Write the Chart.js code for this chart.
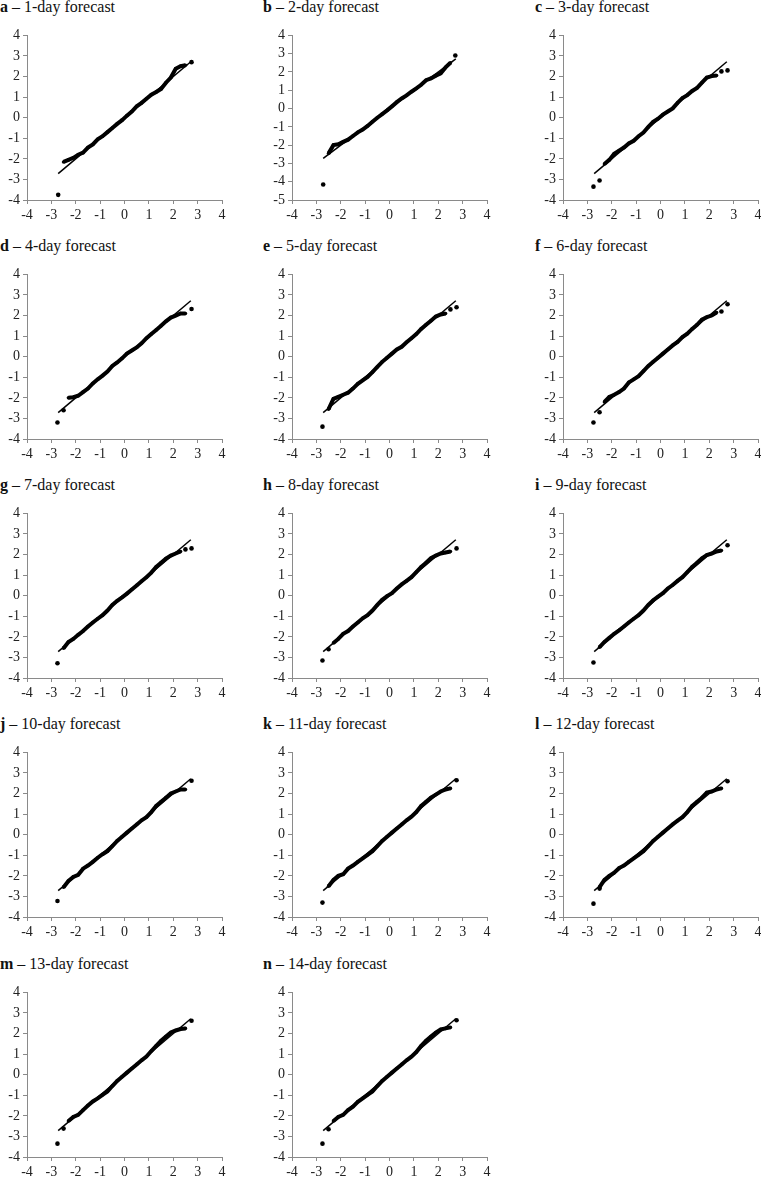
<!DOCTYPE html>
<html lang="en">
<head>
  <meta charset="UTF-8" />
  <title>Q-Q plots of forecast errors</title>
  <script src="https://cdn.jsdelivr.net/npm/chart.js"></script>
  <style>
    body {
      margin: 0;
      background: #fff;
      width: 761px;
      height: 1178px;
      overflow: hidden;
      position: relative;
      font-family: 'Liberation Serif', 'DejaVu Serif', serif;
    }
    .title {
      position: absolute;
      font-size: 16px;
      line-height: 18px;
      color: #111;
      white-space: nowrap;
    }
    .title b { font-weight: bold; }
    canvas { position: absolute; }
  </style>
</head>
<body>

<script>
  // theoretical normal quantiles (x) shared by every panel
  const quantX = [-2.5,-2.3,-2.1,-1.9,-1.7,-1.5,-1.3,-1.1,-0.9,-0.7,-0.5,-0.3,-0.1,
                  0.1,0.3,0.5,0.7,0.9,1.1,1.3,1.5,1.7,1.9,2.1,2.3,2.5];

  // observed standardized errors, one value per quantX (null = no point there)
  const bodyA = [-2.15,-2.05,-1.95,-1.8,-1.7,-1.45,-1.3,-1.05,-0.9,-0.7,-0.5,-0.3,-0.12,0.1,0.3,0.55,0.72,0.92,1.12,1.25,1.4,1.7,1.95,2.38,2.5,2.55];
  const bodyB = [-2.45,-2.0,-1.95,-1.82,-1.7,-1.5,-1.3,-1.15,-0.95,-0.72,-0.5,-0.3,-0.1,0.12,0.35,0.55,0.72,0.92,1.1,1.3,1.55,1.65,1.8,1.92,2.25,2.5];
  const bodyC = [null,-2.25,-2.05,-1.75,-1.6,-1.45,-1.25,-1.12,-0.9,-0.72,-0.45,-0.2,-0.05,0.15,0.3,0.45,0.72,0.95,1.1,1.3,1.45,1.7,1.95,2.02,2.05,null];
  const bodyD = [null,-2.0,-1.97,-1.9,-1.72,-1.55,-1.3,-1.1,-0.92,-0.72,-0.45,-0.28,-0.08,0.15,0.3,0.45,0.65,0.9,1.1,1.3,1.5,1.72,1.9,2.0,2.1,2.1];
  const bodyE = [-2.55,-2.05,-1.95,-1.85,-1.75,-1.55,-1.32,-1.15,-0.98,-0.75,-0.5,-0.25,-0.05,0.15,0.35,0.48,0.7,0.9,1.1,1.35,1.55,1.75,1.95,2.05,2.1,null];
  const bodyF = [null,-2.2,-1.95,-1.85,-1.72,-1.55,-1.25,-1.1,-0.95,-0.7,-0.45,-0.25,-0.05,0.15,0.35,0.55,0.72,0.95,1.12,1.35,1.55,1.8,1.92,2.0,2.15,null];
  const bodyG = [-2.55,-2.25,-2.1,-1.9,-1.72,-1.5,-1.3,-1.12,-0.95,-0.72,-0.45,-0.25,-0.08,0.1,0.3,0.5,0.7,0.9,1.12,1.4,1.6,1.8,1.95,2.05,2.15,null];
  const bodyH = [null,-2.3,-2.1,-1.85,-1.72,-1.5,-1.3,-1.1,-0.95,-0.72,-0.45,-0.2,-0.02,0.12,0.35,0.55,0.72,0.9,1.15,1.4,1.6,1.82,1.95,2.05,2.1,2.15];
  const bodyI = [-2.5,-2.25,-2.05,-1.85,-1.68,-1.5,-1.3,-1.12,-0.95,-0.72,-0.45,-0.22,-0.05,0.12,0.35,0.52,0.72,0.9,1.15,1.4,1.6,1.82,1.98,2.05,2.15,2.2];
  const bodyJ = [-2.55,-2.25,-2.05,-1.95,-1.65,-1.5,-1.32,-1.12,-0.95,-0.8,-0.55,-0.3,-0.1,0.1,0.3,0.5,0.7,0.85,1.1,1.4,1.6,1.8,2.0,2.1,2.2,2.2];
  const bodyK = [-2.5,-2.2,-2.0,-1.92,-1.65,-1.5,-1.32,-1.15,-0.98,-0.8,-0.55,-0.3,-0.1,0.1,0.3,0.5,0.7,0.88,1.1,1.4,1.6,1.8,1.95,2.1,2.2,2.25];
  const bodyL = [-2.55,-2.2,-2.0,-1.85,-1.62,-1.5,-1.32,-1.15,-0.98,-0.8,-0.55,-0.3,-0.1,0.1,0.3,0.5,0.68,0.85,1.1,1.4,1.6,1.8,2.05,2.1,2.2,2.25];
  const bodyM = [null,-2.25,-2.05,-1.95,-1.72,-1.5,-1.3,-1.15,-0.98,-0.82,-0.55,-0.3,-0.1,0.1,0.3,0.5,0.7,0.88,1.15,1.4,1.65,1.85,2.05,2.15,2.22,2.25];
  const bodyN = [null,-2.25,-2.05,-1.95,-1.72,-1.55,-1.32,-1.15,-0.98,-0.82,-0.55,-0.3,-0.1,0.1,0.3,0.5,0.7,0.88,1.1,1.4,1.65,1.85,2.05,2.2,2.25,2.3];

  // isolated extreme points [x, y]
  const tailA = [[-2.72,-3.75],[2.75,2.7]];
  const tailB = [[-2.72,-4.15],[2.7,2.9]];
  const tailC = [[-2.75,-3.35],[-2.5,-3.05],[2.5,2.25],[2.75,2.3]];
  const tailD = [[-2.75,-3.2],[-2.5,-2.6],[2.75,2.32]];
  const tailE = [[-2.75,-3.4],[2.5,2.3],[2.75,2.4]];
  const tailF = [[-2.75,-3.2],[-2.5,-2.7],[2.5,2.2],[2.75,2.55]];
  const tailG = [[-2.75,-3.28],[2.5,2.25],[2.75,2.3]];
  const tailH = [[-2.75,-3.15],[-2.5,-2.6],[2.75,2.3]];
  const tailI = [[-2.75,-3.25],[2.75,2.45]];
  const tailJ = [[-2.75,-3.22],[2.75,2.62]];
  const tailK = [[-2.75,-3.3],[2.75,2.65]];
  const tailL = [[-2.75,-3.35],[-2.5,-2.62],[2.75,2.6]];
  const tailM = [[-2.75,-3.35],[-2.5,-2.62],[2.75,2.62]];
  const tailN = [[-2.75,-3.35],[-2.5,-2.65],[2.75,2.65]];

  // reference (fitted) line
  const fitX = [-2.72, 2.72];
  const fitY = [-2.72, 2.72];

  const letters = ['a','b','c','d','e','f','g','h','i','j','k','l','m','n'];
  const leadDays = [1,2,3,4,5,6,7,8,9,10,11,12,13,14];
  const bodies = [bodyA,bodyB,bodyC,bodyD,bodyE,bodyF,bodyG,bodyH,bodyI,bodyJ,bodyK,bodyL,bodyM,bodyN];
  const tails = [tailA,tailB,tailC,tailD,tailE,tailF,tailG,tailH,tailI,tailJ,tailK,tailL,tailM,tailN];
  const yMins = [-4,-5,-4,-4,-4,-4,-4,-4,-4,-4,-4,-4,-4,-4];

  const colLeft = [0, 265, 536];
  const titleLeft = [0, 263, 535];
  const rowTop = [24, 263, 502, 741, 981];
  const axisGray = '#8a8a8a';
  const tickFont = { family: "'Liberation Serif', 'DejaVu Serif', serif", size: 14 };

  function makePanel(i) {
    const col = i % 3, row = Math.floor(i / 3);

    const t = document.createElement('div');
    t.className = 'title';
    t.style.left = titleLeft[col] + 'px';
    t.style.top = (rowTop[row] - 26) + 'px';
    t.innerHTML = '<b>' + letters[i] + '</b> \u2013 ' + leadDays[i] + '-day forecast';
    document.body.appendChild(t);

    const c = document.createElement('canvas');
    c.style.left = colLeft[col] + 'px';
    c.style.top = rowTop[row] + 'px';
    c.style.width = '232px';
    c.style.height = '202px';
    c.width = 232; c.height = 202;
    document.body.appendChild(c);

    const body = bodies[i].map((y, k) => ({ x: quantX[k], y: y }));
    const tail = tails[i].map(p => ({ x: p[0], y: p[1] }));
    const fit = fitX.map((x, k) => ({ x: x, y: fitY[k] }));

    new Chart(c, {
      type: 'scatter',
      data: {
        datasets: [
          { data: fit, showLine: true, borderColor: '#000', borderWidth: 1.5, pointRadius: 0 },
          { data: body, showLine: true, spanGaps: false, borderColor: '#000', borderWidth: 4,
            pointRadius: 1.8, pointBackgroundColor: '#000', pointBorderWidth: 0 },
          { data: tail, showLine: false, pointRadius: 2.3, pointBackgroundColor: '#000', pointBorderWidth: 0 }
        ]
      },
      options: {
        responsive: false,
        animation: false,
        events: [],
        layout: { padding: { top: 10, right: 10, left: 0, bottom: 0 } },
        plugins: { legend: { display: false }, tooltip: { enabled: false } },
        scales: {
          x: {
            min: -4, max: 4,
            ticks: { stepSize: 1, autoSkip: false, color: '#222', font: tickFont, padding: 3, maxRotation: 0 },
            grid: { drawOnChartArea: false, drawTicks: true, tickLength: 4, color: axisGray },
            border: { color: axisGray, width: 1 },
            afterFit: s => { s.height = 26; }
          },
          y: {
            min: yMins[i], max: 4,
            ticks: { stepSize: 1, autoSkip: false, color: '#222', font: tickFont, padding: 3 },
            grid: { drawOnChartArea: false, drawTicks: true, tickLength: 4, color: axisGray },
            border: { color: axisGray, width: 1 },
            afterFit: s => { s.width = 27; }
          }
        }
      }
    });
  }

  for (let i = 0; i < letters.length; i++) makePanel(i);
</script>
</body>
</html>
